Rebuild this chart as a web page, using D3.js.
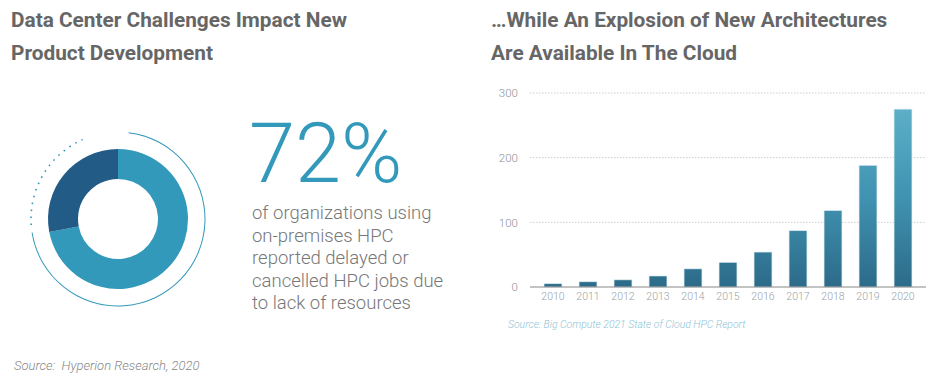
<!DOCTYPE html>
<html><head><meta charset="utf-8">
<script src="https://cdn.jsdelivr.net/npm/d3@7"></script>
<style>
html,body{margin:0;padding:0;background:#fff;}
svg{display:block;}
text{white-space:pre;}
</style></head>
<body>
<svg id="chart" width="936" height="378"></svg>
<script>
// ---- data ----
const donutLabels = ["Delayed or cancelled jobs", "Other"];
const donutValues = [72, 28];
const bigStat = "72%";
const statLines = ["of organizations using", "on-premises HPC", "reported delayed or", "cancelled HPC jobs due", "to lack of resources"];
const years = ["2010","2011","2012","2013","2014","2015","2016","2017","2018","2019","2020"];
const architectures = [5, 8, 11, 17, 28, 38, 54, 87, 118, 188, 275];
const yTicks = [0, 100, 200, 300];
const leftTitle = ["Data Center Challenges Impact New", "Product Development"];
const rightTitle = ["\u2026While An Explosion of New Architectures", "Are Available In The Cloud"];
const leftSource = "Source:  Hyperion Research, 2020";
const rightSource = "Source: Big Compute 2021 State of Cloud HPC Report";

const svg = d3.select("#chart");
const titleFont = "Roboto, 'Liberation Sans', sans-serif";

// titles
function title(lines, x){
  lines.forEach((l, i) => {
    svg.append("text").attr("x", x).attr("y", 27 + i*33)
      .attr("font-family", titleFont).attr("font-weight", 700).attr("font-size", 20.8)
      .attr("fill", "#666").text(l);
  });
}
title(leftTitle, 11);
title(rightTitle, 491);

// ---- donut ----
const cx = 118, cy = 219;
const light = "#3399bb", dark = "#235b87";
const pie = d3.pie().sort(null).value(d => d)(donutValues);
const arc = d3.arc().innerRadius(40).outerRadius(70);
const g = svg.append("g").attr("transform", `translate(${cx},${cy})`);
g.selectAll("path.slice").data(pie).join("path").attr("class","slice")
  .attr("d", arc).attr("fill", (d,i) => i === 0 ? light : dark);

const deg = Math.PI/180;
const ring = d3.arc().innerRadius(86.5).outerRadius(87.5);
g.append("path")
  .attr("d", ring({startAngle: 7*deg, endAngle: 261*deg}))
  .attr("fill", light);
// dotted portion
const dotPath = d3.path();
dotPath.arc(0, 0, 87, (266-90)*deg, (336-90)*deg);
g.append("path").attr("d", dotPath.toString())
  .attr("fill","none").attr("stroke", light).attr("stroke-width", 1.6)
  .attr("stroke-dasharray", "1.6 5.4");

// big stat
svg.append("text").attr("x", 249).attr("y", 182)
  .attr("font-family", "Roboto, sans-serif").attr("font-weight", 300).attr("font-size", 83)
  .attr("fill", light).text(bigStat);
svg.append("g").selectAll("text").data(statLines).join("text")
  .attr("x", 252).attr("y", (d,i) => 219 + i*22.6)
  .attr("font-family", "Roboto, sans-serif").attr("font-weight", 300).attr("font-size", 18.5)
  .attr("fill", "#777").text(d => d);

svg.append("text").attr("x", 14).attr("y", 370)
  .attr("font-family", "Roboto, sans-serif").attr("font-style", "italic").attr("font-weight", 300)
  .attr("font-size", 13).attr("fill", "#888").text(leftSource);

// ---- bar chart ----
const x = d3.scaleBand().domain(years).range([535.5, 920.5]).paddingInner(0.49).paddingOuter(0.245);
const y = d3.scaleLinear().domain([0, 300]).range([287, 93]);

const defs = svg.append("defs");
const grad = defs.append("linearGradient").attr("id","barGrad")
  .attr("gradientUnits","userSpaceOnUse").attr("x1",0).attr("x2",0).attr("y1",y(300)).attr("y2",y(0));
grad.append("stop").attr("offset","0%").attr("stop-color","#62b4cc");
grad.append("stop").attr("offset","55%").attr("stop-color","#3f92b0");
grad.append("stop").attr("offset","100%").attr("stop-color","#2c6b89");

// grid
const grid = svg.append("g");
grid.selectAll("line").data(yTicks.filter(t => t > 0)).join("line")
  .attr("x1", 530).attr("x2", 926).attr("y1", d => y(d)).attr("y2", d => y(d))
  .attr("stroke", "#c8cdd0").attr("stroke-width", 1).attr("stroke-dasharray", "1.5 1.5");

// bars
svg.append("g").selectAll("rect").data(years).join("rect")
  .attr("x", d => x(d)).attr("width", x.bandwidth())
  .attr("y", (d,i) => y(architectures[i])).attr("height", (d,i) => y(0) - y(architectures[i]))
  .attr("fill", "url(#barGrad)")
  .attr("stroke", "#cfe5ee").attr("stroke-width", 0.6);

// baseline
svg.append("line").attr("x1", 530).attr("x2", 926).attr("y1", y(0)).attr("y2", y(0))
  .attr("stroke", "#888").attr("stroke-width", 1);

// y axis labels
const yAxis = d3.axisLeft(y).tickValues(yTicks).tickSize(0).tickPadding(0);
const yg = svg.append("g").attr("transform", "translate(518,0)").call(yAxis);
yg.select(".domain").remove();
yg.selectAll("text").attr("font-family", "Roboto, sans-serif").attr("font-size", 11.5)
  .attr("fill", "#8a9296").attr("font-weight", 300);

// x axis labels
const xAxis = d3.axisBottom(x).tickSize(0).tickPadding(0);
const xg = svg.append("g").attr("transform", `translate(0,${y(0)+6})`).call(xAxis);
xg.select(".domain").remove();
xg.selectAll("text").attr("font-family", "Roboto, sans-serif").attr("font-size", 10.5)
  .attr("fill", "#9aa3a8").attr("font-weight", 300);

svg.append("text").attr("x", 508).attr("y", 328)
  .attr("font-family", "Roboto, sans-serif").attr("font-style", "italic").attr("font-weight", 300)
  .attr("font-size", 10.4).attr("fill", "#8ec3d6").text(rightSource);
</script>
</body></html>
